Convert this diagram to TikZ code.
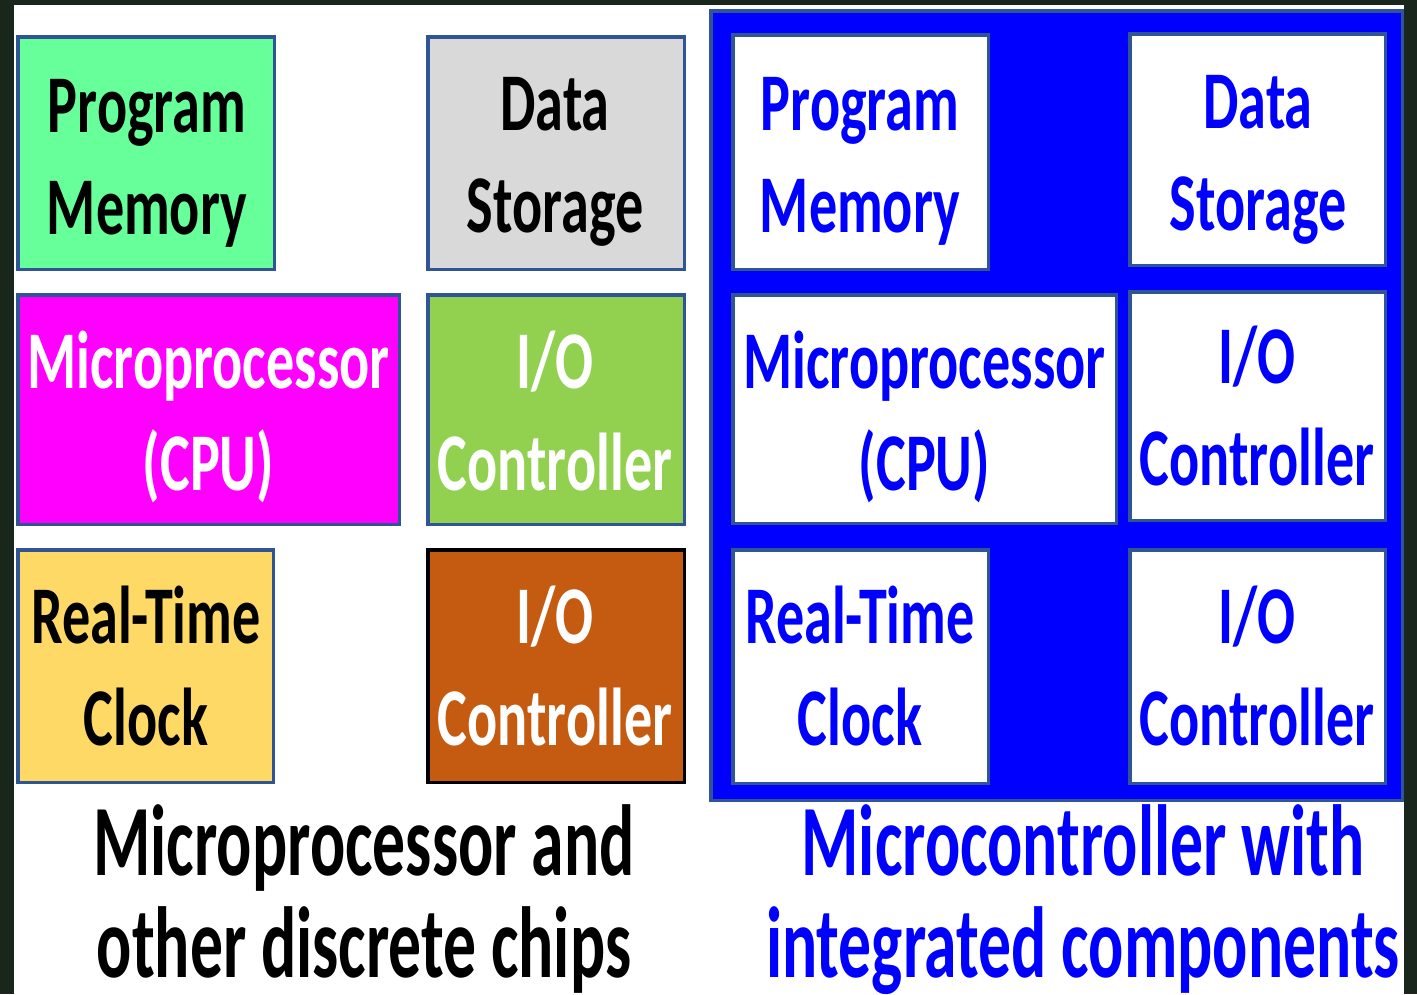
\documentclass[tikz,border=0pt]{standalone}
\usepackage{fontspec}
\newfontfamily\boxfont{Carlito}[FakeStretch=0.685]
\newfontfamily\capfont{Carlito}[FakeStretch=0.65]
\definecolor{framedark}{HTML}{18261C}
\definecolor{edgeblue}{HTML}{2F5597}
\definecolor{pmgreen}{HTML}{66FF99}
\definecolor{dsgray}{HTML}{D9D9D9}
\definecolor{mpmagenta}{HTML}{FF00FF}
\definecolor{iogreen}{HTML}{92D050}
\definecolor{rtcyellow}{HTML}{FFD966}
\definecolor{iobrown}{HTML}{C55A11}
\definecolor{purblue}{HTML}{0000FF}
\tikzset{
  chip/.style={draw=edgeblue, line width=3.5pt, inner sep=0pt, outer sep=0pt},
  lbl/.style={font=\boxfont\bfseries\fontsize{82}{102}\selectfont, align=center, anchor=base, inner sep=0pt},
  caption/.style={font=\capfont\bfseries\fontsize{101}{102}\selectfont, align=center, anchor=base, inner sep=0pt},
}
\begin{document}
\begin{tikzpicture}[x=1pt,y=-1pt]
\useasboundingbox (0,0) rectangle (1417,994);
\fill[framedark] (0,0) rectangle (1417,994);
\fill[white] (14,5) rectangle (1404,994);

% left side: discrete chips
\node[chip, fill=pmgreen, minimum width=256.5pt, minimum height=232.5pt] (lpm) at (146,153) {};
\node[chip, fill=dsgray, minimum width=256.5pt, minimum height=232.5pt] (lds) at (556,153) {};
\node[chip, fill=mpmagenta, minimum width=381.5pt, minimum height=229.5pt] (lmp) at (208.5,409.5) {};
\node[chip, fill=iogreen, minimum width=256.5pt, minimum height=229.5pt] (lio) at (556,409.5) {};
\node[chip, fill=rtcyellow, minimum width=255.5pt, minimum height=232.5pt] (lrtc) at (145.5,666) {};
\node[chip, draw=black, fill=iobrown, minimum width=256.5pt, minimum height=232.5pt] (lio2) at (556,666) {};

% (base anchor = baseline of the last line)
\node[lbl, text=black] (lpmt) at (147,234) {Program\\Memory};
\node[lbl, text=black] (ldst) at (555,232) {Data\\Storage};
\node[lbl, text=white] (lmpt) at (208.5,490) {Microprocessor\\(CPU)};
\node[lbl, text=white] (liot) at (555,490) {I/O\\Controller};
\node[lbl, text=black] (lrtct) at (146,745) {Real-Time\\Clock};
\node[lbl, text=white] (lio2t) at (555,745) {I/O\\Controller};

% right side: microcontroller
\node[chip, fill=purblue, minimum width=691.5pt, minimum height=789.5pt] (mcu) at (1056.5,405.5) {};
\node[chip, fill=white, minimum width=255.5pt, minimum height=234.5pt] (rpm) at (860.5,152) {};
\node[chip, fill=white, minimum width=255.5pt, minimum height=231.5pt] (rds) at (1257.5,149.5) {};
\node[chip, fill=white, minimum width=383.5pt, minimum height=228.5pt] (rmp) at (924.5,409) {};
\node[chip, fill=white, minimum width=255.5pt, minimum height=228.5pt] (rio) at (1257.5,406) {};
\node[chip, fill=white, minimum width=255.5pt, minimum height=233.5pt] (rrtc) at (860.5,666.5) {};
\node[chip, fill=white, minimum width=255.5pt, minimum height=233.5pt] (rio2) at (1257.5,666.5) {};

\node[lbl, text=purblue] (rpmt) at (860,232) {Program\\Memory};
\node[lbl, text=purblue] (rdst) at (1258,230) {Data\\Storage};
\node[lbl, text=purblue] (rmpt) at (924.5,490) {Microprocessor\\(CPU)};
\node[lbl, text=purblue] (riot) at (1257,485) {I/O\\Controller};
\node[lbl, text=purblue] (rrtct) at (860,745) {Real-Time\\Clock};
\node[lbl, text=purblue] (rio2t) at (1257,745) {I/O\\Controller};

% captions
\node[caption, text=black] (lcap) at (364,977) {Microprocessor and\\other discrete chips};
\node[caption, text=purblue] (rcap) at (1083,977) {Microcontroller with\\integrated components};
\end{tikzpicture}
\end{document}
